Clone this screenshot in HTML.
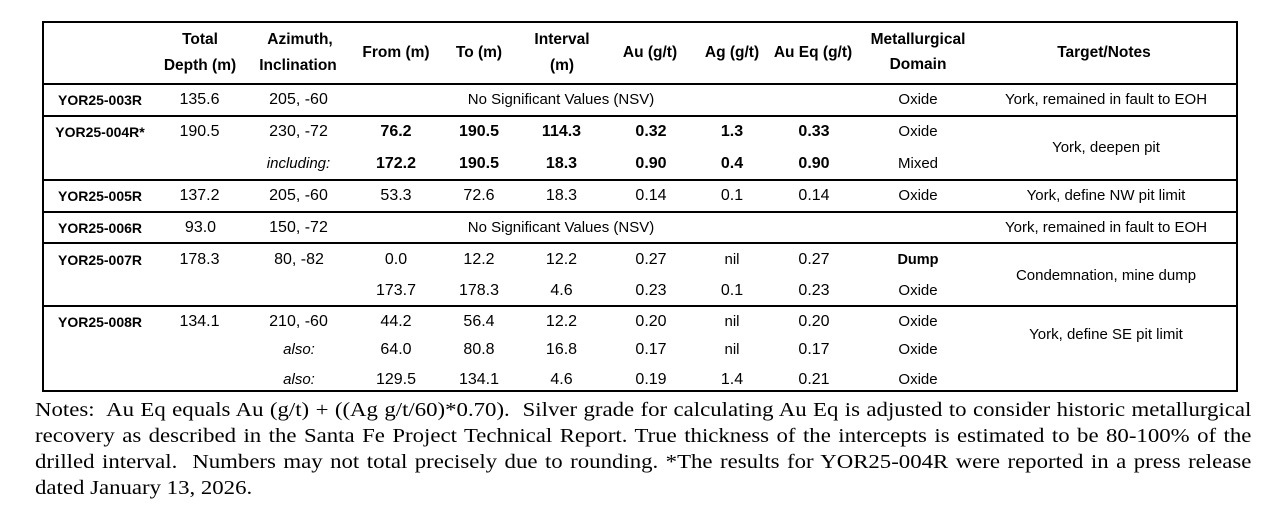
<!DOCTYPE html>
<html>
<head>
<meta charset="utf-8">
<style>
  html, body { margin:0; padding:0; background:#fff; }
  body { width:1277px; height:524px; position:relative; overflow:hidden; font-family:"Liberation Sans", Arial, sans-serif; color:#000; }
  .h { position:absolute; background:#000; height:2px; }
  .v { position:absolute; background:#000; width:2px; }
  .t { position:absolute; height:20px; line-height:20px; white-space:nowrap; transform:translateX(-50%); font-size:15px; }
  .hd { font-weight:bold; font-size:15.5px; }
  .lb { font-weight:bold; font-size:14px; }
  .n { font-size:16px; }
  .b { font-weight:bold; }
  .i { font-style:italic; }
  .notes { position:absolute; left:35px; width:1067px; transform:scaleX(1.14); transform-origin:0 0; font-family:"Liberation Serif", "Times New Roman", serif; font-size:20px; line-height:26px; white-space:nowrap; }
  .notes div { height:26px; }
  .j { text-align:justify; text-align-last:justify; }
</style>
</head>
<body>
<!-- borders -->
<div class="h" style="left:42px;top:21px;width:1196px;"></div>
<div class="h" style="left:42px;top:83px;width:1196px;"></div>
<div class="h" style="left:42px;top:115px;width:1196px;"></div>
<div class="h" style="left:42px;top:179px;width:1196px;"></div>
<div class="h" style="left:42px;top:211px;width:1196px;"></div>
<div class="h" style="left:42px;top:242px;width:1196px;"></div>
<div class="h" style="left:42px;top:305px;width:1196px;"></div>
<div class="h" style="left:42px;top:390px;width:1196px;"></div>
<div class="v" style="left:42px;top:21px;height:371px;"></div>
<div class="v" style="left:1236px;top:21px;height:371px;"></div>

<!-- header -->
<div class="t hd" style="left:200px;top:30px;">Total</div>
<div class="t hd" style="left:200px;top:56px;">Depth (m)</div>
<div class="t hd" style="left:300px;top:30px;">Azimuth,</div>
<div class="t hd" style="left:298px;top:56px;">Inclination</div>
<div class="t hd" style="left:396px;top:43px;">From (m)</div>
<div class="t hd" style="left:479px;top:43px;">To (m)</div>
<div class="t hd" style="left:562px;top:30px;">Interval</div>
<div class="t hd" style="left:562px;top:56px;">(m)</div>
<div class="t hd" style="left:650px;top:43px;">Au (g/t)</div>
<div class="t hd" style="left:732px;top:43px;">Ag (g/t)</div>
<div class="t hd" style="left:813px;top:43px;">Au Eq (g/t)</div>
<div class="t hd" style="left:918px;top:30px;">Metallurgical</div>
<div class="t hd" style="left:918px;top:55px;">Domain</div>
<div class="t hd" style="left:1104px;top:43px;">Target/Notes</div>

<!-- row 1 -->
<div class="t lb" style="left:100px;top:90px;">YOR25-003R</div>
<div class="t n" style="left:199.5px;top:90px;">135.6</div>
<div class="t n" style="left:298.5px;top:90px;">205, -60</div>
<div class="t" style="left:561px;top:90px;">No Significant Values (NSV)</div>
<div class="t" style="left:918px;top:90px;">Oxide</div>
<div class="t" style="left:1106px;top:90px;">York, remained in fault to EOH</div>

<!-- row 2 -->
<div class="t lb" style="left:100px;top:122px;">YOR25-004R*</div>
<div class="t n" style="left:199.5px;top:122px;">190.5</div>
<div class="t n" style="left:298.5px;top:122px;">230, -72</div>
<div class="t n b" style="left:396px;top:122px;">76.2</div>
<div class="t n b" style="left:479px;top:122px;">190.5</div>
<div class="t n b" style="left:561.5px;top:122px;">114.3</div>
<div class="t n b" style="left:651px;top:122px;">0.32</div>
<div class="t n b" style="left:732px;top:122px;">1.3</div>
<div class="t n b" style="left:814px;top:122px;">0.33</div>
<div class="t" style="left:918px;top:122px;">Oxide</div>
<div class="t i" style="left:298.5px;top:154px;">including:</div>
<div class="t n b" style="left:396px;top:154px;">172.2</div>
<div class="t n b" style="left:479px;top:154px;">190.5</div>
<div class="t n b" style="left:561.5px;top:154px;">18.3</div>
<div class="t n b" style="left:651px;top:154px;">0.90</div>
<div class="t n b" style="left:732px;top:154px;">0.4</div>
<div class="t n b" style="left:814px;top:154px;">0.90</div>
<div class="t" style="left:918px;top:154px;">Mixed</div>
<div class="t" style="left:1106px;top:138px;">York, deepen pit</div>

<!-- row 3 -->
<div class="t lb" style="left:100px;top:186px;">YOR25-005R</div>
<div class="t n" style="left:199.5px;top:186px;">137.2</div>
<div class="t n" style="left:298.5px;top:186px;">205, -60</div>
<div class="t n" style="left:396px;top:186px;">53.3</div>
<div class="t n" style="left:479px;top:186px;">72.6</div>
<div class="t n" style="left:561.5px;top:186px;">18.3</div>
<div class="t n" style="left:651px;top:186px;">0.14</div>
<div class="t n" style="left:732px;top:186px;">0.1</div>
<div class="t n" style="left:814px;top:186px;">0.14</div>
<div class="t" style="left:918px;top:186px;">Oxide</div>
<div class="t" style="left:1106px;top:186px;">York, define NW pit limit</div>

<!-- row 4 -->
<div class="t lb" style="left:100px;top:217.5px;">YOR25-006R</div>
<div class="t n" style="left:200.5px;top:217.5px;">93.0</div>
<div class="t n" style="left:298.5px;top:217.5px;">150, -72</div>
<div class="t" style="left:561px;top:217.5px;">No Significant Values (NSV)</div>
<div class="t" style="left:1106px;top:217.5px;">York, remained in fault to EOH</div>

<!-- row 5 -->
<div class="t lb" style="left:100px;top:249.5px;">YOR25-007R</div>
<div class="t n" style="left:199.5px;top:249.5px;">178.3</div>
<div class="t n" style="left:299px;top:249.5px;">80, -82</div>
<div class="t n" style="left:396px;top:249.5px;">0.0</div>
<div class="t n" style="left:479px;top:249.5px;">12.2</div>
<div class="t n" style="left:561.5px;top:249.5px;">12.2</div>
<div class="t n" style="left:651px;top:249.5px;">0.27</div>
<div class="t" style="left:732px;top:249.5px;">nil</div>
<div class="t n" style="left:814px;top:249.5px;">0.27</div>
<div class="t b" style="left:918px;top:249.5px;font-size:14.5px;">Dump</div>
<div class="t n" style="left:396px;top:281px;">173.7</div>
<div class="t n" style="left:479px;top:281px;">178.3</div>
<div class="t n" style="left:561.5px;top:281px;">4.6</div>
<div class="t n" style="left:651px;top:281px;">0.23</div>
<div class="t n" style="left:732px;top:281px;">0.1</div>
<div class="t n" style="left:814px;top:281px;">0.23</div>
<div class="t" style="left:918px;top:281px;">Oxide</div>
<div class="t" style="left:1106px;top:266px;">Condemnation, mine dump</div>

<!-- row 6 -->
<div class="t lb" style="left:100px;top:311.5px;">YOR25-008R</div>
<div class="t n" style="left:199.5px;top:311.5px;">134.1</div>
<div class="t n" style="left:298.5px;top:311.5px;">210, -60</div>
<div class="t n" style="left:396px;top:311.5px;">44.2</div>
<div class="t n" style="left:479px;top:311.5px;">56.4</div>
<div class="t n" style="left:561.5px;top:311.5px;">12.2</div>
<div class="t n" style="left:651px;top:311.5px;">0.20</div>
<div class="t" style="left:732px;top:311.5px;">nil</div>
<div class="t n" style="left:814px;top:311.5px;">0.20</div>
<div class="t" style="left:918px;top:311.5px;">Oxide</div>
<div class="t i" style="left:299px;top:340px;">also:</div>
<div class="t n" style="left:396px;top:340px;">64.0</div>
<div class="t n" style="left:479px;top:340px;">80.8</div>
<div class="t n" style="left:561.5px;top:340px;">16.8</div>
<div class="t n" style="left:651px;top:340px;">0.17</div>
<div class="t" style="left:732px;top:340px;">nil</div>
<div class="t n" style="left:814px;top:340px;">0.17</div>
<div class="t" style="left:918px;top:340px;">Oxide</div>
<div class="t i" style="left:299px;top:369.5px;">also:</div>
<div class="t n" style="left:396px;top:369.5px;">129.5</div>
<div class="t n" style="left:479px;top:369.5px;">134.1</div>
<div class="t n" style="left:561.5px;top:369.5px;">4.6</div>
<div class="t n" style="left:651px;top:369.5px;">0.19</div>
<div class="t n" style="left:732px;top:369.5px;">1.4</div>
<div class="t n" style="left:814px;top:369.5px;">0.21</div>
<div class="t" style="left:918px;top:369.5px;">Oxide</div>
<div class="t" style="left:1106px;top:325px;">York, define SE pit limit</div>

<!-- notes -->
<div class="notes" style="top:397px;">
  <div class="j">Notes:&nbsp; Au Eq equals Au (g/t) + ((Ag g/t/60)*0.70).&nbsp; Silver grade for calculating Au Eq is adjusted to consider historic metallurgical</div>
  <div class="j">recovery as described in the Santa Fe Project Technical Report. True thickness of the intercepts is estimated to be 80-100% of the</div>
  <div class="j">drilled interval.&nbsp; Numbers may not total precisely due to rounding. *The results for YOR25-004R were reported in a press release</div>
  <div>dated January 13, 2026.</div>
</div>
</body>
</html>
